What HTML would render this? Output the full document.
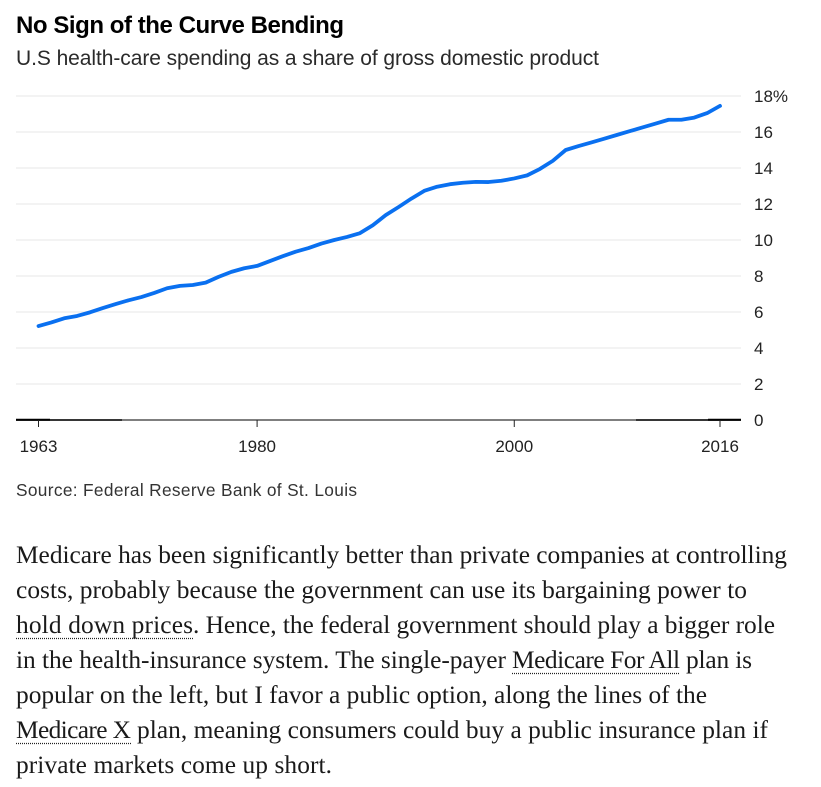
<!DOCTYPE html>
<html>
<head>
<meta charset="utf-8">
<style>
html,body{margin:0;padding:0;background:#fff;width:821px;height:787px;overflow:hidden}
svg{display:block}
.sans{font-family:"Liberation Sans",sans-serif}
.serif{font-family:"Liberation Serif",serif;font-size:25.4px;fill:#1a1a1a}
.tick{font-family:"Liberation Sans",sans-serif;font-size:17px;fill:#222}
.lnk{stroke:#222;stroke-width:1.2;stroke-dasharray:1 1;fill:none}
</style>
</head>
<body>
<svg id="root" width="821" height="787" viewBox="0 0 821 787">
<text class="sans" x="16" y="33" font-size="24" font-weight="bold" fill="#000" textLength="328" lengthAdjust="spacing">No Sign of the Curve Bending</text>
<text class="sans" x="16" y="65" font-size="21" fill="#2a2a2a" textLength="583" lengthAdjust="spacing">U.S health-care spending as a share of gross domestic product</text>
<g id="grid"></g>
<g id="yticks"></g>
<line x1="16" y1="420" x2="741" y2="420" stroke="#555" stroke-width="1.5"></line>
<line x1="16" y1="420" x2="122" y2="420" stroke="#111" stroke-width="1.5"></line>
<line x1="16" y1="419.8" x2="50" y2="419.8" stroke="#000" stroke-width="2"></line>
<line x1="636" y1="420" x2="741" y2="420" stroke="#111" stroke-width="1.5"></line>
<line x1="708" y1="419.8" x2="741" y2="419.8" stroke="#000" stroke-width="2"></line>
<g id="xticks"></g>
<path id="series" fill="none" stroke="#0a70f0" stroke-width="3.8" stroke-linejoin="round" stroke-linecap="round"></path>
<text class="sans" x="16" y="496" font-size="17.3" fill="#333" textLength="341" lengthAdjust="spacing">Source: Federal Reserve Bank of St. Louis</text>

<g>
<text class="serif" x="16" y="563" textLength="771" lengthAdjust="spacing">Medicare has been significantly better than private companies at controlling</text>
<text class="serif" x="16" y="598" textLength="731" lengthAdjust="spacing">costs, probably because the government can use its bargaining power to</text>
<text class="serif" x="16" y="633" textLength="177" lengthAdjust="spacing">hold down prices</text>
<text class="serif" x="193" y="633" textLength="582" lengthAdjust="spacing">. Hence, the federal government should play a bigger role</text>
<text class="serif" x="16" y="668" textLength="490" lengthAdjust="spacing">in the health-insurance system. The single-payer</text>
<text class="serif" x="512" y="668" textLength="168" lengthAdjust="spacing">Medicare For All</text>
<text class="serif" x="686" y="668" textLength="66" lengthAdjust="spacing">plan is</text>
<text class="serif" x="16" y="703" textLength="691" lengthAdjust="spacing">popular on the left, but I favor a public option, along the lines of the</text>
<text class="serif" x="16" y="738" textLength="115" lengthAdjust="spacing">Medicare X</text>
<text class="serif" x="137" y="738" textLength="631" lengthAdjust="spacing">plan, meaning consumers could buy a public insurance plan if</text>
<text class="serif" x="16" y="773" textLength="316" lengthAdjust="spacing">private markets come up short.</text>
<line class="lnk" x1="16" y1="638.5" x2="193" y2="638.5"></line>
<line class="lnk" x1="512" y1="673.5" x2="680" y2="673.5"></line>
<line class="lnk" x1="16" y1="743.5" x2="131" y2="743.5"></line>
</g>
</svg>
<script>
const years = [1963,1964,1965,1966,1967,1968,1969,1970,1971,1972,1973,1974,1975,1976,1977,1978,1979,1980,1981,1982,1983,1984,1985,1986,1987,1988,1989,1990,1991,1992,1993,1994,1995,1996,1997,1998,1999,2000,2001,2002,2003,2004,2005,2006,2007,2008,2009,2010,2011,2012,2013,2014,2015,2016];
const spending = [5.22,5.42,5.65,5.78,5.98,6.22,6.44,6.65,6.83,7.06,7.32,7.45,7.5,7.63,7.95,8.23,8.43,8.56,8.83,9.1,9.35,9.55,9.8,10.0,10.17,10.38,10.82,11.38,11.83,12.3,12.73,12.96,13.1,13.18,13.23,13.22,13.29,13.42,13.59,13.95,14.4,15.0,15.22,15.42,15.63,15.84,16.05,16.26,16.47,16.68,16.68,16.8,17.05,17.45];
const yTickValues = [0,2,4,6,8,10,12,14,16,18];
const yTickLabels = ["0","2","4","6","8","10","12","14","16","18%"];
const xTickValues = [1963,1980,2000,2016];
const xTickLabels = ["1963","1980","2000","2016"];

function xScale(year){ return 38.5 + (year - 1963) * (720 - 38.5) / (2016 - 1963); }
function yScale(v){ return 420 - v * (420 - 96) / 18; }

const NS = "http://www.w3.org/2000/svg";
const grid = document.getElementById("grid");
const yticks = document.getElementById("yticks");
const xticks = document.getElementById("xticks");

yTickValues.forEach(function(v, i){
  if (v !== 0) {
    const g = document.createElementNS(NS, "line");
    g.setAttribute("x1", 16);
    g.setAttribute("x2", 741);
    g.setAttribute("y1", yScale(v));
    g.setAttribute("y2", yScale(v));
    g.setAttribute("stroke", "#efefef");
    g.setAttribute("stroke-width", "1.6");
    
    
    grid.appendChild(g);
  }
  const t = document.createElementNS(NS, "text");
  t.setAttribute("x", 754);
  t.setAttribute("y", yScale(v) + 6);
  t.setAttribute("class", "tick");
  t.textContent = yTickLabels[i];
  
  
  yticks.appendChild(t);
});

xTickValues.forEach(function(yr, i){
  const m = document.createElementNS(NS, "line");
  m.setAttribute("x1", xScale(yr));
  m.setAttribute("x2", xScale(yr));
  m.setAttribute("y1", 420);
  m.setAttribute("y2", 427);
  m.setAttribute("stroke", "#222");
  m.setAttribute("stroke-width", "1");
  
  
  xticks.appendChild(m);
  const t = document.createElementNS(NS, "text");
  t.setAttribute("x", xScale(yr));
  t.setAttribute("y", 452);
  t.setAttribute("text-anchor", "middle");
  t.setAttribute("class", "tick");
  t.textContent = xTickLabels[i];
  
  
  xticks.appendChild(t);
});

document.getElementById("series").setAttribute("d", years.map(function(yr, i){
  return (i ? "L" : "M") + xScale(yr).toFixed(2) + " " + yScale(spending[i]).toFixed(2);
}).join(" "));
</script>
</body>
</html>
